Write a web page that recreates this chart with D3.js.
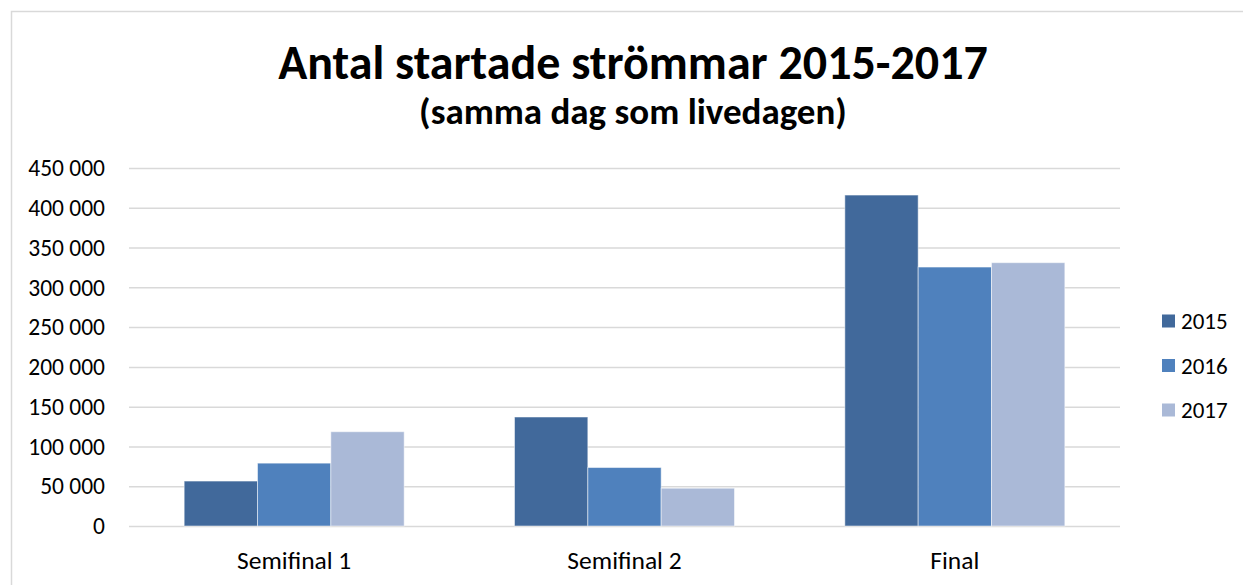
<!DOCTYPE html>
<html>
<head>
<meta charset="utf-8">
<script src="https://cdn.jsdelivr.net/npm/d3@7"></script>
<style>
  body { margin: 0; background: #fff; }
  text { font-family: Carlito, Calibri, Lato, sans-serif; fill: #000; }
</style>
</head>
<body>
<div id="chart"></div>
<script>
var categories = ["Semifinal 1", "Semifinal 2", "Final"];
var years = ["2015", "2016", "2017"];
var values2015 = [56500, 137000, 416000];
var values2016 = [79000, 73500, 325500];
var values2017 = [118500, 47500, 331000];
var yTicks = [0, 50000, 100000, 150000, 200000, 250000, 300000, 350000, 400000, 450000];
var colors = ["#41699b", "#4f81bd", "#aab9d7"];

var W = 1243, H = 585;
var plot = {left: 129, right: 1120, top: 168, bottom: 526};

var series = [values2015, values2016, values2017];
var rows = categories.map(function (c, i) {
    return {cat: c, vals: years.map(function (y, j) { return {year: y, v: series[j][i], k: j}; })};
});

var svg = d3.select("#chart").append("svg").attr("width", W).attr("height", H);

// outer chart border (only top and left visible)
svg.append("path").attr("d", "M11.5," + H + "V11.5H" + W)
    .attr("fill", "none").attr("stroke", "#d9d9d9").attr("stroke-width", 1.5);

var x = d3.scaleBand().domain(categories).range([plot.left, plot.right]).paddingInner(0.334).paddingOuter(0.167);
var xi = d3.scaleBand().domain(years).range([0, x.bandwidth()]);
var y = d3.scaleLinear().domain([0, 450000]).range([plot.bottom, plot.top]);

var fmt = function (d) { return d3.format(",")(d).replace(/,/g, " "); };

// gridlines
svg.append("g").selectAll("line").data(yTicks).enter().append("line")
    .attr("x1", plot.left).attr("x2", plot.right)
    .attr("y1", function (d) { return y(d) + 0.5; }).attr("y2", function (d) { return y(d) + 0.5; })
    .attr("stroke", "#d9d9d9").attr("stroke-width", 1.5);

// y labels
svg.append("g").selectAll("text").data(yTicks).enter().append("text")
    .attr("x", 105).attr("y", function (d) { return y(d); }).attr("dy", "0.35em")
    .attr("text-anchor", "end").attr("font-size", 23.5).text(fmt);

// bars
svg.append("g").selectAll("g").data(rows).enter().append("g")
    .attr("transform", function (d) { return "translate(" + x(d.cat) + ",0)"; })
    .selectAll("rect").data(function (d) { return d.vals; }).enter().append("rect")
    .attr("x", function (d) { return xi(d.year); })
    .attr("y", function (d) { return y(d.v); })
    .attr("width", xi.bandwidth())
    .attr("height", function (d) { return y(0) - y(d.v); })
    .attr("fill", function (d) { return colors[d.k]; })
    .attr("stroke", "#ffffff").attr("stroke-opacity", 0.5).attr("stroke-width", 1);

// x labels
svg.append("g").selectAll("text").data(categories).enter().append("text")
    .attr("x", function (d) { return x(d) + x.bandwidth() / 2; }).attr("y", 569)
    .attr("text-anchor", "middle").attr("font-size", 25.5).text(function (d) { return d; });

// legend
var leg = svg.append("g").selectAll("g").data(years).enter().append("g")
    .attr("transform", function (d, i) { return "translate(1162," + (321 + i * 44.5) + ")"; });
leg.append("rect").attr("x", 0).attr("y", -6.5).attr("width", 13).attr("height", 13)
    .attr("fill", function (d, i) { return colors[i]; });
leg.append("text").attr("x", 19).attr("dy", "0.36em").attr("font-size", 23).text(function (d) { return d; });

// titles
svg.append("text").attr("x", 633).attr("y", 79).attr("text-anchor", "middle")
    .attr("font-size", 48).attr("font-weight", "bold").text("Antal startade strömmar 2015-2017");
svg.append("text").attr("x", 633).attr("y", 124).attr("text-anchor", "middle")
    .attr("font-size", 37).attr("font-weight", "bold").text("(samma dag som livedagen)");
</script>
</body>
</html>
